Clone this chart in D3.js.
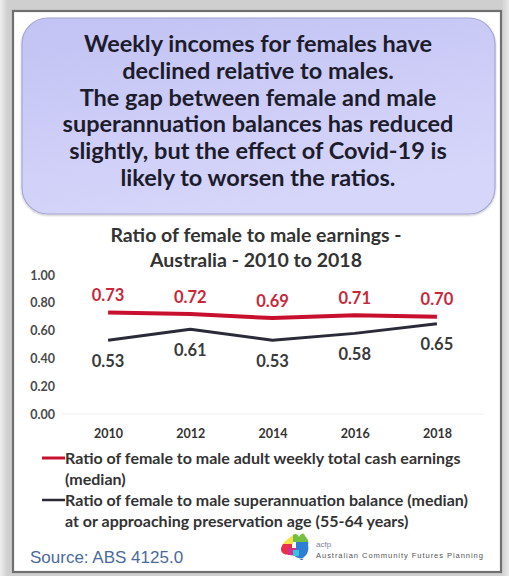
<!DOCTYPE html>
<html><head><meta charset="utf-8">
<script src="https://cdn.jsdelivr.net/npm/d3@7"></script>
<style>
html,body{margin:0;padding:0;background:#d4d4d4;}
svg{display:block;}
</style></head>
<body>
<svg id="c" width="509" height="576"></svg>
<script>
// ---- data ----
const years = ["2010", "2012", "2014", "2016", "2018"];
const earningsRatio = [0.73, 0.72, 0.69, 0.71, 0.70];
const superRatio = [0.53, 0.61, 0.53, 0.58, 0.65];
const yTickValues = [0.00, 0.20, 0.40, 0.60, 0.80, 1.00];
const headlineLines = [
  "Weekly incomes for females have",
  "declined relative to males.",
  "The gap between female and male",
  "superannuation balances has reduced",
  "slightly, but the effect of Covid-19 is",
  "likely to worsen the ratios."
];
const chartTitleLines = ["Ratio of female to male earnings -", "Australia - 2010 to 2018"];
const legendEarnings = ["Ratio of female to male adult weekly total cash earnings", "(median)"];
const legendSuper = ["Ratio of female to male superannuation balance (median)", "at or approaching preservation age (55-64 years)"];
const sourceText = "Source: ABS 4125.0";
const logoSmall = "acfp";
const logoText = "Australian Community Futures Planning";

const svg = d3.select("#c");
const defs = svg.append("defs");
const FONT = "Lato, 'Open Sans', sans-serif";

// background shading
const bg = defs.append("linearGradient").attr("id","bg").attr("x1",0).attr("x2",1).attr("y1",0).attr("y2",0);
bg.append("stop").attr("offset","0%").attr("stop-color","#eeeeee");
bg.append("stop").attr("offset","1.5%").attr("stop-color","#cfcfcf");
bg.append("stop").attr("offset","98.5%").attr("stop-color","#cfcfcf");
bg.append("stop").attr("offset","100%").attr("stop-color","#e8e8e8");
svg.append("rect").attr("width",509).attr("height",576).attr("fill","url(#bg)");

// panel
svg.append("rect").attr("x",13).attr("y",11).attr("width",488).attr("height",561)
  .attr("fill","#ffffff").attr("stroke","#707070").attr("stroke-width",2.2);

// headline box
const boxG = defs.append("linearGradient").attr("id","boxg").attr("x1",0).attr("x2",0.4).attr("y1",0).attr("y2",1);
boxG.append("stop").attr("offset","0%").attr("stop-color","#c2c2f4");
boxG.append("stop").attr("offset","100%").attr("stop-color","#d6d6fa");
const sh = defs.append("filter").attr("id","sh").attr("x","-5%").attr("y","-5%").attr("width","110%").attr("height","115%");
sh.append("feGaussianBlur").attr("in","SourceAlpha").attr("stdDeviation",1.2);
sh.append("feOffset").attr("dx",0).attr("dy",1).attr("result","b");
sh.append("feComponentTransfer").append("feFuncA").attr("type","linear").attr("slope",0.25);
const mg = sh.append("feMerge"); mg.append("feMergeNode"); mg.append("feMergeNode").attr("in","SourceGraphic");

svg.append("rect").attr("x",22).attr("y",18).attr("width",473).attr("height",196).attr("rx",26).attr("ry",26)
  .attr("fill","url(#boxg)").attr("stroke","#a6a6d6").attr("stroke-width",1.2).attr("filter","url(#sh)");

svg.append("g").selectAll("text").data(headlineLines).join("text")
  .attr("x",258).attr("y",(d,i)=>44 + i*26.7).attr("dy","0.35em")
  .attr("text-anchor","middle")
  .attr("font-family",FONT).attr("font-weight","700").attr("font-size",23.5)
  .attr("fill","#1c1c2c").text(d=>d);

// chart title
svg.append("g").selectAll("text").data(chartTitleLines).join("text")
  .attr("x",256).attr("y",(d,i)=>235 + i*25).attr("dy","0.35em")
  .attr("text-anchor","middle")
  .attr("font-family",FONT).attr("font-weight","700").attr("font-size",19.5)
  .attr("fill","#333333").text(d=>d);

// scales
const x = d3.scalePoint().domain(years).range([67, 478]).padding(0.5);
const y = d3.scaleLinear().domain([0, 1]).range([414, 275]);

// baseline gridline
svg.append("line").attr("x1",62).attr("x2",483).attr("y1",y(0)).attr("y2",y(0))
  .attr("stroke","#eeeeee").attr("stroke-width",1);

// y axis
const yAxis = svg.append("g").attr("transform","translate(55,0)")
  .call(d3.axisLeft(y).tickValues(yTickValues).tickFormat(d3.format(".2f")).tickSize(0).tickPadding(0));
yAxis.select(".domain").remove();
yAxis.selectAll("text").attr("font-family",FONT).attr("font-weight","700")
  .attr("font-size",12.5).attr("fill","#4a4a4a");

// x axis
const xAxis = svg.append("g").attr("transform",`translate(0,${y(0)})`)
  .call(d3.axisBottom(x).tickSize(0).tickPadding(15));
xAxis.select(".domain").remove();
xAxis.selectAll("text").attr("font-family",FONT).attr("font-weight","700")
  .attr("font-size",12.5).attr("fill","#333333");

const red = "#c8102e", dark = "#2a2a38";
const line = d3.line().x((d,i)=>x(years[i])).y(d=>y(d));

svg.append("path").datum(earningsRatio).attr("d",line).attr("fill","none")
  .attr("stroke",red).attr("stroke-width",4).attr("stroke-linejoin","round");
svg.append("path").datum(superRatio).attr("d",line).attr("fill","none")
  .attr("stroke",dark).attr("stroke-width",3).attr("stroke-linejoin","round");

// data labels
svg.append("g").selectAll("text").data(earningsRatio).join("text")
  .attr("x",(d,i)=>x(years[i])).attr("y",d=>y(d)-17).attr("dy","0.35em").attr("text-anchor","middle")
  .attr("font-family",FONT).attr("font-weight","700").attr("font-size",16.5)
  .attr("fill","#c8283a").text(d=>d3.format(".2f")(d));
svg.append("g").selectAll("text").data(superRatio).join("text")
  .attr("x",(d,i)=>x(years[i])).attr("y",d=>y(d)+21).attr("dy","0.35em").attr("text-anchor","middle")
  .attr("font-family",FONT).attr("font-weight","700").attr("font-size",16.5)
  .attr("fill","#3a3a3a").text(d=>d3.format(".2f")(d));

// legend
function legendItem(lines, color, width, y0){
  svg.append("line").attr("x1",42).attr("x2",65).attr("y1",y0).attr("y2",y0)
    .attr("stroke",color).attr("stroke-width",width);
  svg.append("g").selectAll("text").data(lines).join("text")
    .attr("x",65).attr("y",(d,i)=>y0 + i*21.5).attr("dy","0.35em")
    .attr("font-family",FONT).attr("font-weight","700").attr("font-size",16)
    .attr("fill","#333333").text(d=>d);
}
legendItem(legendEarnings, red, 3, 458);
legendItem(legendSuper, dark, 2.5, 500);

// source
svg.append("text").attr("x",30).attr("y",557).attr("dy","0.35em")
  .attr("font-family","'Liberation Sans', Arial, sans-serif").attr("font-size",17)
  .attr("fill","#4a6a9c").text(sourceText);

// logo (decorative map)
const logo = svg.append("g").attr("transform","translate(280,532)");
const clip = defs.append("clipPath").attr("id","aus");
clip.append("path").attr("d","M2,14 C4,8 10,6 13,3 C15,1 18,2 19,5 C21,1 24,0 25,4 C27,6 29,8 28,13 C29,17 28,22 24,25 C22,28 18,26 16,25 C13,22 8,24 4,22 C1,20 0,17 2,14 Z M20,27 L23,27 L22,30 Z");
const lg = logo.append("g").attr("clip-path","url(#aus)");
[["#f5e14a",0,0,13,12],["#74c043",13,0,16,10],["#e8304b",0,12,12,14],["#d42e8c",8,16,8,10],["#2d7fd6",16,10,13,18],["#35c4e0",13,18,6,6]]
  .forEach(r=>lg.append("rect").attr("x",r[1]).attr("y",r[2]).attr("width",r[3]).attr("height",r[4]).attr("fill",r[0]));
svg.append("text").attr("x",316).attr("y",544).attr("dy","0.35em")
  .attr("font-family","'Liberation Sans', Arial, sans-serif").attr("font-size",8).attr("fill","#8080a0").text(logoSmall);
svg.append("text").attr("x",316).attr("y",555).attr("dy","0.35em")
  .attr("font-family","'Liberation Sans', Arial, sans-serif").attr("font-size",7.6).attr("fill","#555555")
  .attr("textLength",167).text(logoText);
</script>
</body></html>
